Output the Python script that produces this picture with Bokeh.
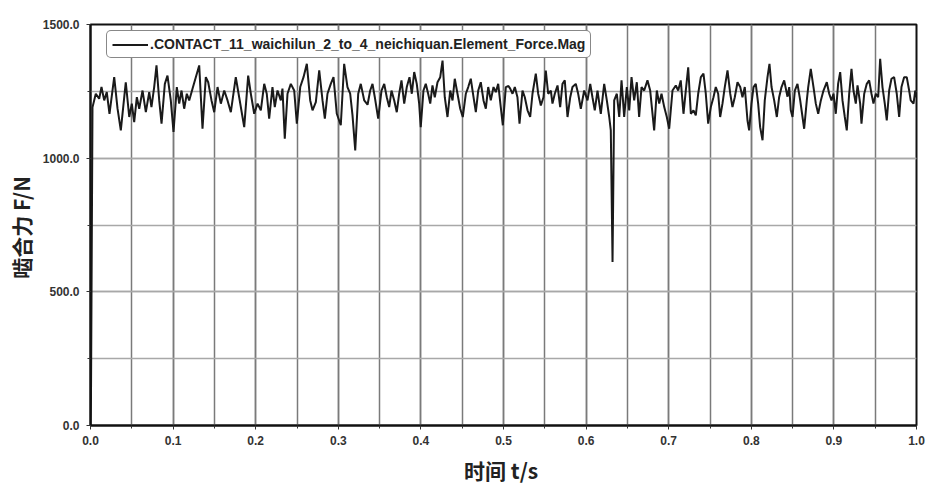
from bokeh.plotting import figure
from bokeh.models import Range1d, SingleIntervalTicker, NumeralTickFormatter, Legend, LegendItem
from bokeh.embed import file_html
from bokeh.resources import INLINE

series_name = ".CONTACT_11_waichilun_2_to_4_neichiquan.Element_Force.Mag"

time_s = [
    0.0, 0.0006, 0.0024, 0.0064, 0.0105, 0.0133, 0.0166, 0.0197, 0.0230, 0.0287, 0.0327, 0.0367,
    0.0427, 0.0469, 0.0500, 0.0529, 0.0561, 0.0590, 0.0630, 0.0670, 0.0711, 0.0738, 0.0771, 0.0799,
    0.0832, 0.0860, 0.0900, 0.0932, 0.0972, 0.1005, 0.1045, 0.1074, 0.1102, 0.1134, 0.1166, 0.1195,
    0.1235, 0.1275, 0.1316, 0.1356, 0.1396, 0.1425, 0.1465, 0.1498, 0.1538, 0.1578, 0.1619, 0.1659,
    0.1699, 0.1759, 0.1800, 0.1861, 0.1909, 0.1941, 0.1982, 0.2022, 0.2062, 0.2103, 0.2134, 0.2163,
    0.2203, 0.2231, 0.2264, 0.2304, 0.2324, 0.2352, 0.2385, 0.2425, 0.2466, 0.2498, 0.2539, 0.2579,
    0.2619, 0.2660, 0.2688, 0.2728, 0.2769, 0.2809, 0.2837, 0.2869, 0.2909, 0.2942, 0.2982, 0.3030,
    0.3071, 0.3111, 0.3144, 0.3172, 0.3205, 0.3241, 0.3272, 0.3314, 0.3354,
    0.3386, 0.3414, 0.3442, 0.3483, 0.3523, 0.3556, 0.3587, 0.3616, 0.3644, 0.3677, 0.3708, 0.3737,
    0.3765, 0.3798, 0.3829, 0.3862, 0.3890, 0.3919, 0.3950, 0.3979, 0.3998, 0.4031, 0.4059, 0.4088,
    0.4113, 0.4140, 0.4168, 0.4201, 0.4234, 0.4262, 0.4289, 0.4322, 0.4355, 0.4383, 0.4410, 0.4443,
    0.4476, 0.4507, 0.4544, 0.4573, 0.4604, 0.4637, 0.4665, 0.4694, 0.4725, 0.4758, 0.4786, 0.4815,
    0.4846, 0.4879, 0.4907, 0.4936, 0.4967, 0.4992, 0.5028, 0.5060,
    0.5081, 0.5109, 0.5137, 0.5169, 0.5194, 0.5230, 0.5258, 0.5291, 0.5323, 0.5351, 0.5391, 0.5420,
    0.5452, 0.5484, 0.5512, 0.5541, 0.5573, 0.5593, 0.5621, 0.5654, 0.5686, 0.5714, 0.5742, 0.5775,
    0.5808, 0.5835, 0.5875, 0.5904, 0.5936, 0.5977, 0.6017, 0.6050, 0.6077, 0.6105, 0.6138, 0.6178,
    0.6219, 0.6251, 0.6280, 0.6299, 0.6320, 0.6340, 0.6372, 0.6401, 0.6429, 0.6461, 0.6493, 0.6522,
    0.6550, 0.6582, 0.6614, 0.6642, 0.6671, 0.6703, 0.6743,
    0.6776, 0.6804, 0.6824, 0.6856, 0.6885, 0.6913, 0.6946, 0.6977, 0.7006, 0.7046, 0.7086, 0.7115,
    0.7146, 0.7179, 0.7207, 0.7236, 0.7268, 0.7300, 0.7328, 0.7357, 0.7389, 0.7421, 0.7449, 0.7478,
    0.7510, 0.7542, 0.7570, 0.7599, 0.7623, 0.7651, 0.7679, 0.7712, 0.7745, 0.7772, 0.7800, 0.7833,
    0.7866, 0.7893, 0.7921, 0.7954, 0.7974, 0.8002, 0.8027, 0.8054, 0.8083, 0.8107, 0.8136, 0.8163,
    0.8196, 0.8220, 0.8245, 0.8277, 0.8309, 0.8337, 0.8366, 0.8398, 0.8438,
    0.8459, 0.8478, 0.8499, 0.8527, 0.8559, 0.8592, 0.8620, 0.8640, 0.8672, 0.8689, 0.8720, 0.8753,
    0.8781, 0.8810, 0.8842, 0.8874, 0.8914, 0.8943, 0.8971, 0.8995, 0.9023, 0.9051, 0.9076, 0.9104,
    0.9132, 0.9156, 0.9185, 0.9213, 0.9237, 0.9265, 0.9286, 0.9318, 0.9334, 0.9367, 0.9398, 0.9427,
    0.9455, 0.9479, 0.9507, 0.9536, 0.9560, 0.9588, 0.9616, 0.9640, 0.9669, 0.9697, 0.9729, 0.9761,
    0.9790, 0.9818, 0.9850, 0.9882, 0.9911, 0.9930, 0.9964, 0.9985, 1.0,
]

force_N = [
    0, 105, 1190, 1241, 1222, 1266, 1216, 1247, 1166, 1303, 1186, 1104,
    1284, 1154, 1204, 1135, 1228, 1185, 1253, 1172, 1247, 1191, 1266, 1347,
    1216, 1129, 1278, 1309, 1216, 1098, 1266, 1204, 1253, 1185, 1241, 1216,
    1260, 1303, 1347, 1110, 1303, 1284, 1216, 1172, 1266, 1204, 1253, 1216,
    1172, 1303, 1228, 1116, 1309, 1241, 1166, 1204, 1179, 1278, 1241, 1148,
    1266, 1191, 1253, 1216, 1260, 1073, 1241, 1278, 1253, 1129, 1266, 1303,
    1353, 1216, 1179, 1210, 1328, 1216, 1148, 1241, 1278, 1303, 1166, 1123,
    1353, 1266, 1241, 1160, 1029, 1241, 1278, 1216, 1200,
    1253, 1278, 1228, 1148, 1253, 1278, 1228, 1191, 1253, 1216, 1172, 1241,
    1291, 1204, 1266, 1303, 1241, 1322, 1278, 1204, 1116, 1253, 1278, 1241,
    1204, 1272, 1228, 1284, 1303, 1365, 1228, 1154, 1253, 1216, 1297, 1241,
    1185, 1154, 1241, 1266, 1297, 1228, 1172, 1253, 1284, 1216, 1185, 1266,
    1216, 1266, 1247, 1278, 1191, 1123, 1266, 1270,
    1260, 1241, 1266, 1228, 1129, 1253, 1228, 1179, 1154, 1241, 1316, 1241,
    1197, 1228, 1328, 1241, 1253, 1204, 1241, 1272, 1191, 1278, 1291, 1154,
    1228, 1266, 1278, 1241, 1185, 1253, 1216, 1278, 1228, 1179, 1253, 1166,
    1278, 1216, 1154, 1104, 612, 1216, 1241, 1154, 1291, 1154, 1266, 1179,
    1303, 1216, 1284, 1154, 1266, 1253, 1291,
    1253, 1166, 1104, 1253, 1204, 1241, 1191, 1154, 1110, 1253, 1272, 1253,
    1291, 1166, 1253, 1340, 1166, 1179, 1160, 1241, 1303, 1316, 1241, 1129,
    1191, 1228, 1266, 1241, 1154, 1204, 1266, 1328, 1241, 1191, 1228, 1284,
    1266, 1228, 1266, 1141, 1104, 1204, 1266, 1278, 1204, 1116, 1067, 1216,
    1303, 1353, 1266, 1216, 1154, 1228, 1266, 1291, 1230,
    1266, 1179, 1154, 1253, 1278, 1216, 1154, 1110, 1216, 1266, 1334, 1266,
    1204, 1166, 1216, 1253, 1284, 1241, 1216, 1241, 1166, 1278, 1322, 1216,
    1154, 1104, 1241, 1334, 1253, 1204, 1272, 1204, 1129, 1241, 1278, 1291,
    1241, 1204, 1241, 1228, 1372, 1266, 1204, 1141, 1253, 1297, 1303, 1241,
    1154, 1266, 1303, 1303, 1253, 1216, 1204, 1253, 1228,
]

x_label = "时间  t/s"
y_label = "啮合力  F/N"

p = figure(width=928, height=487, output_backend="svg", toolbar_location=None,
           x_range=Range1d(0, 1.0), y_range=Range1d(0, 1500),
           min_border_left=90, min_border_right=12, min_border_top=24, min_border_bottom=60)
p.background_fill_color = "white"
p.border_fill_color = "white"
p.outline_line_color = "#111111"
p.outline_line_width = 2

r = p.line(time_s, force_N, line_color="#1a1a1a", line_width=2)

p.xaxis.ticker = SingleIntervalTicker(interval=0.1, num_minor_ticks=2)
p.yaxis.ticker = SingleIntervalTicker(interval=500, num_minor_ticks=2)
p.xaxis.formatter = NumeralTickFormatter(format="0.0")
p.yaxis.formatter = NumeralTickFormatter(format="0.0")

for ax in (p.xaxis, p.yaxis):
    ax.axis_line_color = "#111111"
    ax.axis_line_width = 2
    ax.major_tick_line_color = "#333333"
    ax.minor_tick_line_color = "#333333"
    ax.major_tick_in = 0
    ax.major_tick_out = 4
    ax.minor_tick_in = 0
    ax.minor_tick_out = 3
    ax.major_label_text_font = "Liberation Sans"
    ax.major_label_text_font_style = "bold"
    ax.major_label_text_font_size = "12px"
    ax.major_label_text_color = "#333333"
    ax.axis_label_text_font = "Noto Sans CJK SC"
    ax.axis_label_text_font_style = "bold"
    ax.axis_label_text_font_size = "21px"
    ax.axis_label_text_color = "#222222"

p.xaxis.axis_label = x_label
p.yaxis.axis_label = y_label
p.xaxis.major_label_standoff = 6
p.yaxis.major_label_standoff = 7
p.xaxis.axis_label_standoff = 7
p.yaxis.axis_label_standoff = 4

p.xgrid.grid_line_color = "#7a7a7a"
p.xgrid.grid_line_width = 1.5
p.xgrid.minor_grid_line_color = "#7a7a7a"
p.xgrid.minor_grid_line_width = 1.5
p.ygrid.grid_line_color = "#a8a8a8"
p.ygrid.grid_line_width = 1.5
p.ygrid.minor_grid_line_color = "#a8a8a8"
p.ygrid.minor_grid_line_width = 1.5

legend = Legend(items=[LegendItem(label=series_name, renderers=[r])],
                location=(16, 367), margin=0, padding=5, spacing=0,
                glyph_width=36, glyph_height=13, label_height=13,
                label_standoff=2,
                label_text_font="Liberation Sans", label_text_font_size="14px",
                label_text_font_style="bold",
                label_text_color="#222222",
                border_line_color="#111111", border_line_width=1.5,
                border_radius=5, background_fill_color="white", background_fill_alpha=1.0)
p.add_layout(legend)

open("out.html", "w").write(file_html(p, INLINE))
